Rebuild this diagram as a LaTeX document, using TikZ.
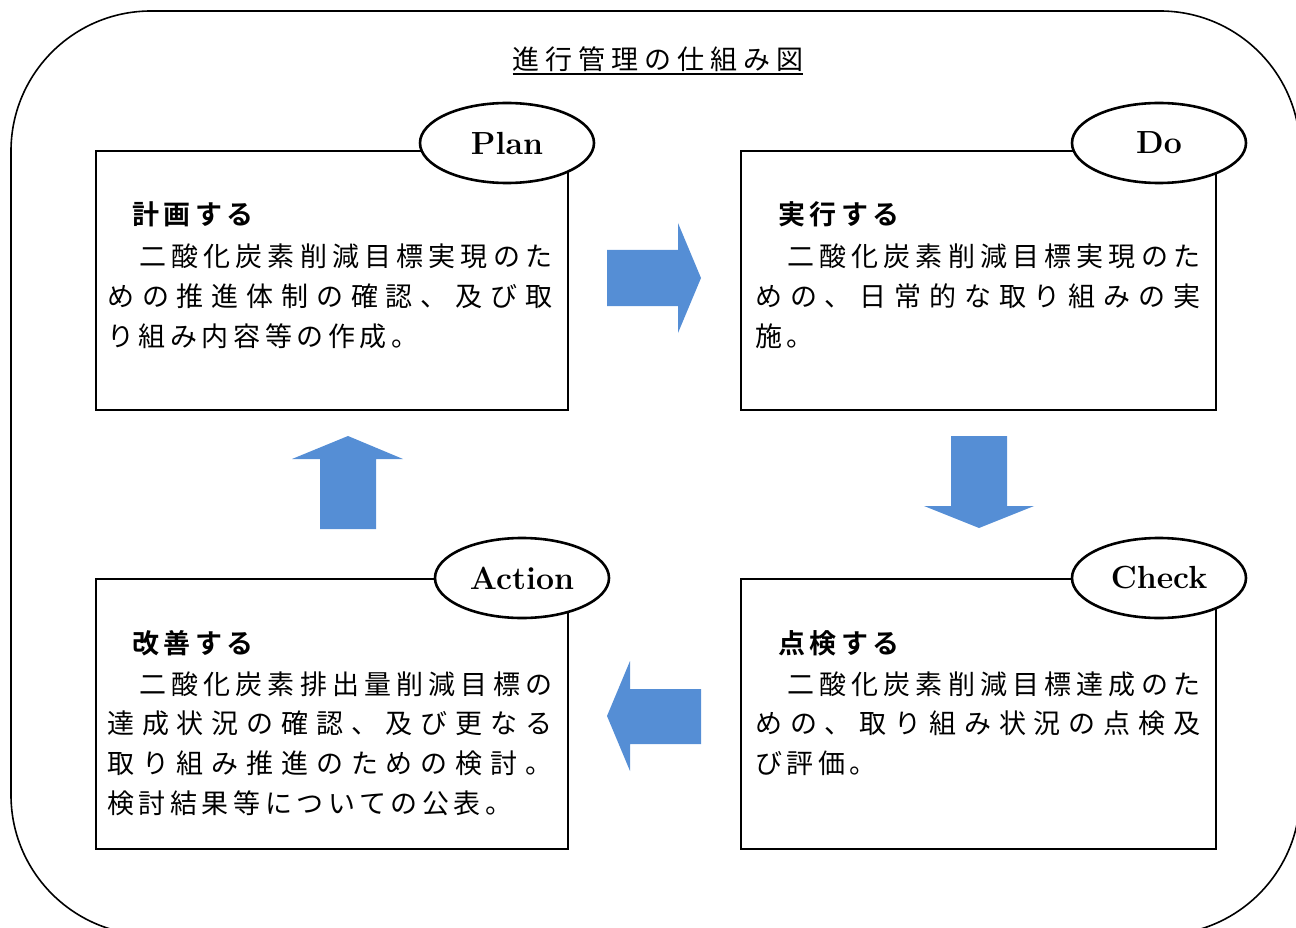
\documentclass[tikz,border=0pt]{standalone}
\usepackage{fontspec}
\usetikzlibrary{shapes.geometric}
\newfontfamily\jp[LetterSpace=17]{Noto Sans CJK JP}
\newfontfamily\jpb[LetterSpace=17]{Noto Sans CJK JP Bold}
\newfontfamily\jpt[LetterSpace=22]{Noto Sans CJK JP}
\definecolor{arrowblue}{RGB}{85,142,213}
\def\sploop#1{\ifx#1\relax\else #1\hfil\expandafter\sploop\fi}
\newcommand\fullline[1]{\hbox to 445pt{\sploop #1\relax\unskip}}
\tikzset{
  box/.style={draw, line width=1.6pt, fill=white, inner sep=0pt, anchor=north west},
  lbl/.style={ellipse, draw, line width=2.6pt, fill=white, minimum width=174pt, minimum height=80pt, inner sep=0pt, font=\fontsize{32}{32}\selectfont\bfseries},
  txt/.style={anchor=base west, inner sep=0pt, font=\jp\fontsize{27}{27}\selectfont},
  hd/.style={anchor=base west, inner sep=0pt, font=\jpb\fontsize{27}{27}\selectfont},
  blk/.style={fill=arrowblue, draw=none},
}
\begin{document}
\begin{tikzpicture}[x=1pt,y=-1pt]
\path[use as bounding box] (0,0) rectangle (1296,928);
\clip (0,0) rectangle (1296,928);
% outer frame
\draw[line width=1.6pt, rounded corners=140pt] (11,11) rectangle (1300,935);
% title
\node[font=\jpt\fontsize{27}{27}\selectfont, inner sep=0pt, anchor=base] (title) at (658,70) {進行管理の仕組み図};
\draw[line width=1.8pt] ([yshift=-4pt]title.base west) -- ([yshift=-4pt]title.base east);
% boxes
\node[box, minimum width=472pt, minimum height=259pt] (plan) at (95,150) {};
\node[box, minimum width=475pt, minimum height=259pt] (do) at (740,150) {};
\node[box, minimum width=472pt, minimum height=270pt] (action) at (95,578) {};
\node[box, minimum width=475pt, minimum height=270pt] (check) at (740,578) {};
% labels
\node[lbl] (planl) at (507,143) {Plan};
\node[lbl] (dol) at (1159,143) {Do};
\node[lbl] (actionl) at (522,578) {Action};
\node[lbl] (checkl) at (1159,578) {Check};
% Plan text
\node[hd] (planh) at (132,225) {計画する};
\node[txt] (plan1) at (107,266) {\fullline{　二酸化炭素削減目標実現のた}};
\node[txt] (plan2) at (107,306) {\fullline{めの推進体制の確認、及び取}};
\node[txt] (plan3) at (107,346) {り組み内容等の作成。};
% Do text
\node[hd] (doh) at (778,225) {実行する};
\node[txt] (do1) at (755,266) {\fullline{　二酸化炭素削減目標実現のた}};
\node[txt] (do2) at (755,306) {\fullline{めの、日常的な取り組みの実}};
\node[txt] (do3) at (755,346) {施。};
% Check text
\node[hd] (checkh) at (778,653) {点検する};
\node[txt] (check1) at (755,694) {\fullline{　二酸化炭素削減目標達成のた}};
\node[txt] (check2) at (755,733) {\fullline{めの、取り組み状況の点検及}};
\node[txt] (check3) at (755,773) {び評価。};
% Action text
\node[hd] (actionh) at (132,653) {改善する};
\node[txt] (action1) at (107,694) {\fullline{　二酸化炭素排出量削減目標の}};
\node[txt] (action2) at (107,733) {\fullline{達成状況の確認、及び更なる}};
\node[txt] (action3) at (107,773) {\fullline{取り組み推進のための検討。}};
\node[txt] (action4) at (107,813) {検討結果等についての公表。};
% block arrows
\fill[blk] (607,250) -- (678,250) -- (678,223) -- (701,278) -- (678,333) -- (678,306) -- (607,306) -- cycle;
\fill[blk] (951,436) -- (1007,436) -- (1007,506) -- (1034,506) -- (979,528) -- (924,506) -- (951,506) -- cycle;
\fill[blk] (701,689) -- (630,689) -- (630,661) -- (607,716) -- (630,771) -- (630,744) -- (701,744) -- cycle;
\fill[blk] (320,529) -- (320,459) -- (292,459) -- (348,436) -- (403,459) -- (376,459) -- (376,529) -- cycle;
\end{tikzpicture}
\end{document}
